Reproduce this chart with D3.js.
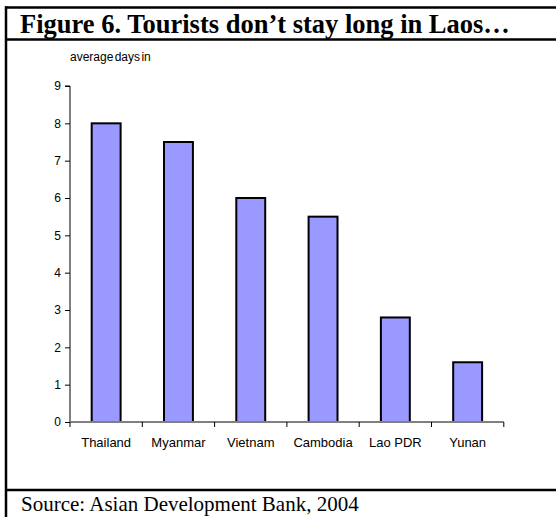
<!DOCTYPE html>
<html><head><meta charset="utf-8">
<script src="https://cdn.jsdelivr.net/npm/d3@7"></script>
<style>body{margin:0;background:#fff}svg{display:block}</style>
</head><body>
<script>
const categories = ["Thailand","Myanmar","Vietnam","Cambodia","Lao PDR","Yunan"];
const values = [8, 7.5, 6, 5.5, 2.8, 1.6];
const yTicks = [0,1,2,3,4,5,6,7,8,9];
const titleText = "Figure 6. Tourists don\u2019t stay long in Laos\u2026";
const yLabel = "average days in";
const sourceText = "Source: Asian Development Bank, 2004";

const W = 556, H = 517;
const svg = d3.select("body").append("svg").attr("width", W).attr("height", H);

// frame
const frame = svg.append("g").attr("stroke", "#000").attr("stroke-width", 2.5);
frame.append("line").attr("x1", 5).attr("x2", W).attr("y1", 7.5).attr("y2", 7.5);
frame.append("line").attr("x1", 5).attr("x2", W).attr("y1", 39.5).attr("y2", 39.5);
frame.append("line").attr("x1", 5).attr("x2", W).attr("y1", 490).attr("y2", 490);
frame.append("line").attr("x1", 6).attr("x2", 6).attr("y1", 6.3).attr("y2", H);

svg.append("text").attr("x", 20).attr("y", 33)
  .attr("font-family", "Liberation Serif, Times New Roman, serif")
  .attr("font-weight", "bold").attr("font-size", 26.5).text(titleText);
svg.append("text").attr("x", 21).attr("y", 511)
  .attr("font-family", "Liberation Serif, Times New Roman, serif")
  .attr("font-size", 21).text(sourceText);

const x0 = 70, band = 72.3;
const x = d3.scaleBand().domain(categories).range([x0, x0 + band * categories.length]).paddingInner(0.6).paddingOuter(0.3);
const y = d3.scaleLinear().domain([0, 9]).range([422, 86]);

const font = "Liberation Sans, Arial, sans-serif";

// bars
svg.append("g").selectAll("rect").data(categories).join("rect")
  .attr("x", d => x(d)).attr("width", x.bandwidth())
  .attr("y", (d, i) => y(values[i])).attr("height", (d, i) => y(0) - y(values[i]))
  .attr("fill", "#9999FF").attr("stroke", "#000").attr("stroke-width", 2);

// y axis
const ya = svg.append("g").attr("transform", `translate(${x0},0)`)
  .call(d3.axisLeft(y).tickValues(yTicks).tickSize(5).tickPadding(4).tickFormat(d3.format("d")));
ya.select(".domain").attr("stroke", "#000").attr("d", `M-5,${y(9)}H0V${y(0)}`);
ya.selectAll("text").attr("font-family", font).attr("font-size", 12).attr("fill", "#000");

// x axis
const xr = x.range();
const xa = svg.append("g").attr("transform", `translate(0,${y(0)})`);
xa.append("line").attr("x1", xr[0]).attr("x2", xr[1]).attr("stroke", "#808080").attr("stroke-width", 1.8);
const tickPos = d3.range(categories.length + 1).map(i => xr[0] + i * x.step());
xa.selectAll("line.t").data(tickPos).join("line").attr("class", "t")
  .attr("x1", d => d).attr("x2", d => d).attr("y1", 0).attr("y2", 5).attr("stroke", "#000");
xa.selectAll("text").data(categories).join("text")
  .attr("x", d => x(d) + x.bandwidth() / 2).attr("y", 25)
  .attr("text-anchor", "middle").attr("font-family", font).attr("font-size", 13).text(d => d);

svg.append("text").attr("x", 70).attr("y", 61).attr("font-family", font).attr("font-size", 12)
  .attr("word-spacing", -2).text(yLabel);
</script>
</body></html>
